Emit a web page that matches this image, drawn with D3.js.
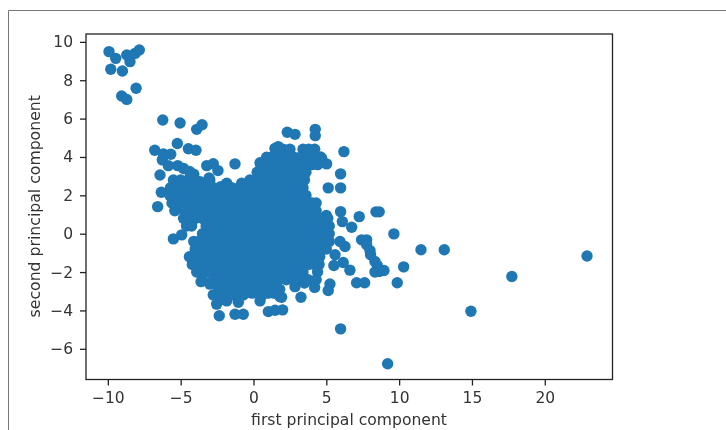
<!DOCTYPE html>
<html>
<head>
<meta charset="utf-8">
<script src="https://cdn.jsdelivr.net/npm/d3@7"></script>
<style>
    html, body { margin: 0; padding: 0; background: #fff; overflow: hidden; }
    text { font-family: "DejaVu Sans", sans-serif; }
    svg { filter: blur(0.4px); }
</style>
</head>
<body>
<div id="chart"></div>
<script>
const xTicks = [-10, -5, 0, 5, 10, 15, 20]
const yTicks = [-6, -4, -2, 0, 2, 4, 6, 8, 10]
const xTitle = "first principal component"
const yTitle = "second principal component"

// points that can be told apart in the picture
const topLeft = [[-9.92, 9.49], [-9.46, 9.14], [-9.8, 8.57], [-9.0, 8.48], [-8.7, 9.32], [-8.48, 8.97], [-8.13, 9.4], [-7.84, 9.58],
    [-8.06, 7.58], [-9.05, 7.18], [-8.7, 7.0]]
const upperEdge = [[-6.23, 5.93], [-5.04, 5.77], [-3.9, 5.44], [-3.53, 5.68], [-5.23, 4.7], [-4.47, 4.43], [-3.95, 4.35],
    [-6.78, 4.35], [-6.19, 4.16], [-5.68, 4.14], [-6.26, 3.85], [-5.85, 3.55], [-6.42, 3.06], [-6.33, 2.16], [-6.58, 1.41],
    [-5.2, 3.55], [-4.8, 3.4], [-4.4, 3.25], [-4.1, 3.1], [-3.21, 3.55], [-2.76, 3.65], [-2.44, 3.29], [-1.27, 3.64],
    [-3.05, 2.9], [-3.67, 2.71], [-1.84, 2.63], [-2.25, 2.45], [-0.81, 2.63], [0.45, 3.7], [0.9, 3.99], [1.48, 4.45],
    [1.7, 4.54], [2.16, 4.37], [2.32, 5.29], [2.85, 5.18], [4.24, 5.44], [4.24, 5.11]]
const rightSide = [[6.21, 4.28], [5.02, 3.64], [4.68, 3.93], [5.98, 3.12], [5.13, 2.39], [5.98, 2.39], [5.98, 1.15], [7.26, 0.89],
    [8.41, 1.14], [8.63, 1.14], [6.1, 0.63], [6.74, 0.34], [9.64, -0.01], [7.42, -0.32], [7.77, -0.32], [7.77, -0.58],
    [8.0, -0.88], [8.04, -1.1], [8.34, -1.45], [8.5, -1.66], [8.34, -2.0], [8.63, -1.97], [8.96, -1.92], [10.31, -1.73],
    [9.87, -2.56], [11.5, -0.84], [13.1, -0.84], [22.9, -1.16], [17.74, -2.23], [14.93, -4.04], [5.98, -4.96], [9.21, -6.78],
    [7.08, -2.56], [7.63, -2.56], [6.62, -1.9], [6.16, -1.5], [5.52, -1.66], [6.28, -0.67], [5.94, -0.41], [5.6, -1.1],
    [5.25, -2.62], [5.13, -2.96], [5.0, 0.95], [3.5, -2.57], [2.85, -2.76]]
const lowerEdge = [[3.26, -3.31], [1.93, -3.31], [-2.35, -4.28], [-1.27, -4.2], [-0.7, -4.2], [1.02, -4.06], [1.48, -3.99], [2.0, -3.97],
    [-2.53, -3.67], [-2.76, -3.19], [-1.84, -3.5], [-1.04, -3.57], [0.45, -3.5], [1.82, -3.28], [-5.5, -0.27], [-4.93, -0.06],
    [-3.6, -2.5], [-2.99, -2.63], [-2.3, -3.1], [-2.0, -3.3], [-2.4, -3.5], [-1.5, -3.2], [-0.7, -3.2], [0.6, -3.2],
    [1.0, -3.1], [1.4, -3.1], [1.8, -2.9], [1.3, -2.8], [-2.4, -2.8]]

// the middle of the cloud is solid in the picture, one list of first component values per second component value
const coreY = [4.4, 4.0, 3.6, 3.2, 2.8, 2.4, 2.0, 1.6, 1.2, 0.8, 0.4, 0, -0.4, -0.8, -1.2, -1.6, -2.0, -2.4, -2.8, -3.1]
const coreX = [
    [1.5, 2.0, 2.5, 3.4, 3.8, 4.2],
    [1.25, 1.75, 2.25, 2.75, 3.25, 3.75, 4.25, 4.6],
    [0.5, 1.0, 1.5, 2.0, 2.5, 3.0, 3.5, 4.0, 4.4],
    [0.25, 0.75, 1.25, 1.75, 2.25, 2.75, 3.25, 3.6],
    [-5.5, -5.0, -4.5, -4.0, -3.0, -0.25, 0.25, 0.75, 1.25, 1.75, 2.25, 2.75, 3.25, 3.5],
    [-5.7, -5.25, -4.75, -4.25, -3.75, -3.25, -2.75, -2.0, -1.5, -1.0, -0.5, 0, 0.5, 1.0, 1.5, 2.0, 2.5, 3.0, 3.4],
    [-5.75, -5.25, -4.75, -4.25, -3.75, -3.25, -2.75, -2.25, -1.75, -1.25, -0.75, -0.25, 0.25, 0.75, 1.25, 1.75, 2.25, 2.75, 3.25, 3.6],
    [-5.6, -5.0, -4.5, -4.0, -3.5, -3.0, -2.5, -2.0, -1.5, -1.0, -0.5, 0, 0.5, 1.0, 1.5, 2.0, 2.5, 3.0, 3.5, 4.0, 4.3],
    [-5.4, -4.75, -4.25, -3.75, -3.25, -2.75, -2.25, -1.75, -1.25, -0.75, -0.25, 0.25, 0.75, 1.25, 1.75, 2.25, 2.75, 3.25, 3.75, 4.3],
    [-4.8, -4.5, -4.0, -3.5, -3.0, -2.5, -2.0, -1.5, -1.0, -0.5, 0, 0.5, 1.0, 1.5, 2.0, 2.5, 3.0, 3.5, 4.0, 4.5, 5.1],
    [-4.6, -4.25, -3.25, -2.75, -2.25, -1.75, -1.25, -0.75, -0.25, 0.25, 0.75, 1.25, 1.75, 2.25, 2.75, 3.25, 3.75, 4.25, 4.75, 5.2],
    [-3.5, -3.0, -2.5, -2.0, -1.5, -1.0, -0.5, 0, 0.5, 1.0, 1.5, 2.0, 2.5, 3.0, 3.5, 4.0, 4.5, 5.0, 5.2],
    [-4.1, -3.75, -3.25, -2.75, -2.25, -1.75, -1.25, -0.75, -0.25, 0.25, 0.75, 1.25, 1.75, 2.25, 2.75, 3.25, 3.75, 4.25, 4.75, 5.2],
    [-4.0, -3.5, -3.0, -2.5, -2.0, -1.5, -1.0, -0.5, 0, 0.5, 1.0, 1.5, 2.0, 2.5, 3.0, 3.5, 4.0, 4.5, 5.0],
    [-4.4, -3.75, -3.25, -2.75, -2.25, -1.75, -1.25, -0.75, -0.25, 0.25, 0.75, 1.25, 1.75, 2.25, 2.75, 3.25, 3.75, 4.25, 4.55],
    [-4.2, -3.7, -3.2, -2.7, -2.2, -1.7, -1.2, -0.7, -0.2, 0.3, 0.8, 1.3, 1.8, 2.3, 2.8, 3.3, 3.8, 4.2, 4.5],
    [-3.9, -3.5, -3.0, -2.5, -2.0, -1.5, -1.0, -0.5, 0, 0.5, 1.0, 1.5, 2.0, 2.5, 3.0, 3.4, 4.4],
    [-3.5, -2.75, -2.25, -1.75, -1.25, -0.75, -0.25, 0.25, 0.75, 1.25, 1.75, 2.25, 2.75, 3.25, 3.75, 4.3],
    [-2.0, -1.5, -1.0, -0.5, 0, 0.5, 1.1, 4.2],
    [-1.1, -0.6, -0.1, 0.5]
]

const points = [...topLeft, ...upperEdge, ...rightSide, ...lowerEdge,
    ...coreY.flatMap((y, i) => coreX[i].map(x => [x, y]))]

const margin = { top: 34, right: 113.5, bottom: 50.5, left: 86 }
const width = 726 - margin.left - margin.right
const height = 430 - margin.top - margin.bottom

const x = d3.scaleLinear().domain([-11.5, 24.65]).range([0, width])
const y = d3.scaleLinear().domain([-7.6, 10.41]).range([height, 0])

const page = d3.select("#chart")
    .append("svg")
    .attr("width", 726)
    .attr("height", 430)
    .style("display", "block")

// screenshot frame around the notebook cell
page.append("path")
    .attr("d", "M8.5,430V10.5H726")
    .attr("fill", "none")
    .attr("stroke", "#777")
    .attr("stroke-width", 1)

const svg = page.append("g")
    .attr("transform", `translate(${margin.left}, ${margin.top})`)

svg.selectAll("circle")
    .data(points)
    .join("circle")
    .attr("cx", d => x(d[0]))
    .attr("cy", d => y(d[1]))
    .attr("r", 5.7)
    .attr("fill", "#1f77b4")

svg.append("g")
    .attr("transform", `translate(0, ${height})`)
    .call(d3.axisBottom(x).tickValues(xTicks).tickSize(6).tickPadding(6))
    .style("font-size", "15.5px")
    .call(g => g.select(".domain").remove())

svg.append("g")
    .call(d3.axisLeft(y).tickValues(yTicks).tickSize(6).tickPadding(7))
    .style("font-size", "15.5px")
    .call(g => g.select(".domain").remove())

svg.selectAll(".tick line").attr("stroke", "#222").attr("stroke-width", 1.3)
svg.selectAll(".tick text").attr("fill", "#333").style("font-family", "DejaVu Sans")

svg.append("rect")
    .attr("width", width)
    .attr("height", height)
    .attr("fill", "none")
    .attr("stroke", "#222")
    .attr("stroke-width", 1.3)

svg.append("text")
    .attr("x", (251 + 447) / 2 - margin.left)
    .attr("y", height + 45)
    .style("text-anchor", "middle")
    .style("font-size", "15.6px")
    .style("fill", "#333")
    .text(xTitle)

svg.append("text")
    .attr("transform", "rotate(-90)")
    .attr("x", 0 - (height / 2) + 0.5)
    .attr("y", -46)
    .style("text-anchor", "middle")
    .style("font-size", "15.7px")
    .style("fill", "#333")
    .text(yTitle)
</script>
</body>
</html>
